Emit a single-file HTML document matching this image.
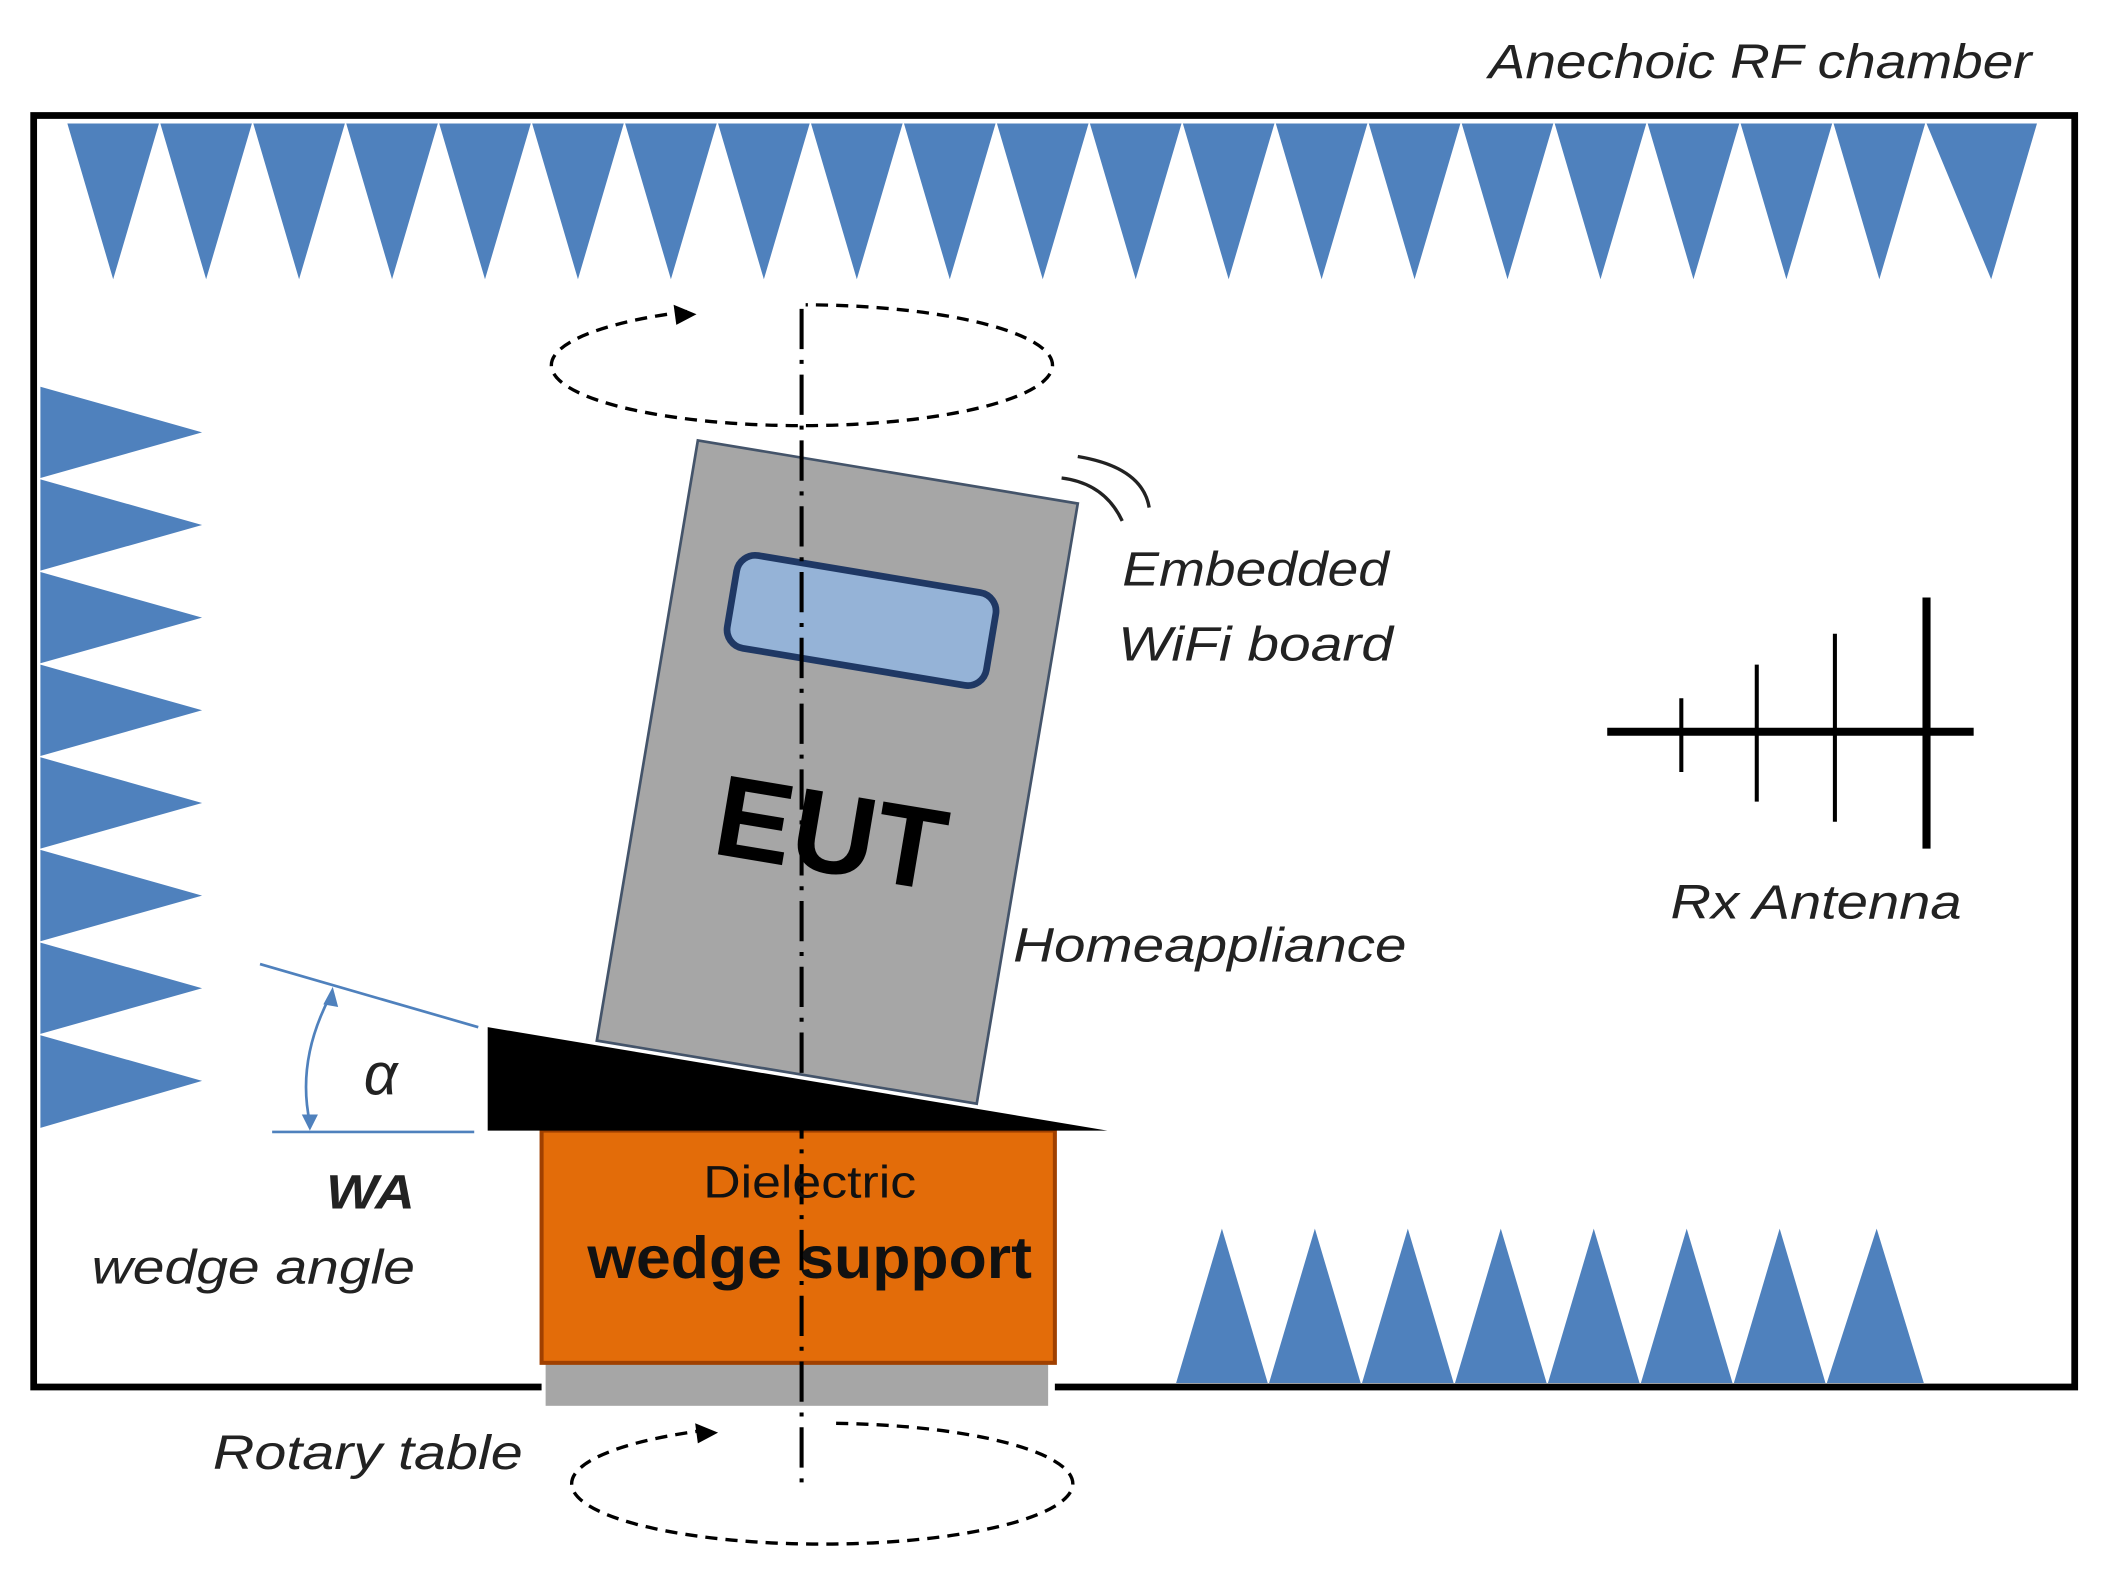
<!DOCTYPE html>
<html><head><meta charset="utf-8"><style>html,body{margin:0;padding:0;background:#fff}svg{display:block}</style></head>
<body>
<svg width="2103" height="1575" viewBox="0 0 1561 1173" preserveAspectRatio="none" xmlns="http://www.w3.org/2000/svg" font-family="Liberation Sans, sans-serif">
<rect width="1561" height="1173" fill="#fff"/>
<path d="M402,1033 L25,1033 L25,86 L1540,86 L1540,1033 L783,1033" fill="none" stroke="#000" stroke-width="5"/>
<g fill="#4f81bd">
<path d="M50,92 L118,92 L84,208Z M119,92 L187,92 L153,208Z M188,92 L256,92 L222,208Z M257,92 L325,92 L291,208Z M326,92 L394,92 L360,208Z M395,92 L463,92 L429,208Z M464,92 L532,92 L498,208Z M533,92 L601,92 L567,208Z M602,92 L670,92 L636,208Z M671,92 L739,92 L705,208Z M740,92 L808,92 L774,208Z M809,92 L877,92 L843,208Z M878,92 L946,92 L912,208Z M947,92 L1015,92 L981,208Z M1016,92 L1084,92 L1050,208Z M1085,92 L1153,92 L1119,208Z M1154,92 L1222,92 L1188,208Z M1223,92 L1291,92 L1257,208Z M1292,92 L1360,92 L1326,208Z M1361,92 L1429,92 L1395,208Z M1430,92 L1512,92 L1478,208Z"/>
<path d="M30,288 L150,322 L30,356Z M30,357 L150,391 L30,425Z M30,426 L150,460 L30,494Z M30,495 L150,529 L30,563Z M30,564 L150,598 L30,632Z M30,633 L150,667 L30,701Z M30,702 L150,736 L30,770Z M30,771 L150,805 L30,840Z"/>
<path d="M873,1030 L907,915 L941,1030Z M942,1030 L976,915 L1010,1030Z M1011,1030 L1045,915 L1079,1030Z M1080,1030 L1114,915 L1148,1030Z M1149,1030 L1183,915 L1217,1030Z M1218,1030 L1252,915 L1286,1030Z M1287,1030 L1321,915 L1355,1030Z M1356,1030 L1393,915 L1428,1030Z"/>
</g>
<rect x="405" y="1015" width="373" height="32" fill="#a6a6a6"/>
<rect x="402" y="842" width="381" height="173" fill="#e36c09" stroke="#a04000" stroke-width="3"/>
<polygon points="518,328 800,375 725,822 443,775" fill="#a6a6a6" stroke="#44546a" stroke-width="2"/>
<g transform="rotate(9.5 639 462)">
<rect x="542" y="427" width="195" height="70" rx="14" fill="#95b3d7" stroke="#1f3864" stroke-width="5"/>
</g>
<text x="617" y="650" font-size="86" font-weight="bold" text-anchor="middle" transform="rotate(9.5 617 620)">EUT</text>
<polygon points="362,765 822,842 362,842" fill="#000"/>
<line x1="595" y1="230" x2="595" y2="1105" stroke="#000" stroke-width="3" stroke-dasharray="30,8,3,8"/>
<path d="M510,232 A186,45 0 1 0 598,227" fill="none" stroke="#000" stroke-width="2.5" stroke-dasharray="9,6"/>
<path d="M500,227 L517,234 L502,242Z" fill="#000"/>
<path d="M525,1065 A186,45 0 1 0 615,1060" fill="none" stroke="#000" stroke-width="2.5" stroke-dasharray="9,6"/>
<path d="M516,1060 L533,1067 L518,1075Z" fill="#000"/>
<path d="M788,356 Q820,360 833,388" fill="none" stroke="#222" stroke-width="2.5"/>
<path d="M800,340 Q848,348 853,378" fill="none" stroke="#222" stroke-width="2.5"/>
<line x1="193" y1="718" x2="355" y2="765" stroke="#4f81bd" stroke-width="2"/>
<line x1="202" y1="843" x2="352" y2="843" stroke="#4f81bd" stroke-width="2"/>
<path d="M245,742 Q220,790 230,836" fill="none" stroke="#4f81bd" stroke-width="2"/>
<path d="M240,748 L247,735 L251,750Z M224,830 L230,842 L236,830Z" fill="#4f81bd"/>
<line x1="1193" y1="545" x2="1465" y2="545" stroke="#000" stroke-width="6"/>
<line x1="1248" y1="520" x2="1248" y2="575" stroke="#000" stroke-width="3"/>
<line x1="1304" y1="495" x2="1304" y2="597" stroke="#000" stroke-width="3"/>
<line x1="1362" y1="472" x2="1362" y2="612" stroke="#000" stroke-width="3"/>
<line x1="1430" y1="445" x2="1430" y2="632" stroke="#000" stroke-width="6"/>
<g font-style="italic" font-size="36" fill="#222">
<text x="1105" y="58" textLength="403" lengthAdjust="spacingAndGlyphs">Anechoic RF chamber</text>
<text x="833" y="436" textLength="198" lengthAdjust="spacingAndGlyphs">Embedded</text>
<text x="830" y="492" textLength="204" lengthAdjust="spacingAndGlyphs">WiFi board</text>
<text x="752" y="716" textLength="292" lengthAdjust="spacingAndGlyphs">Homeappliance</text>
<text x="1240" y="684" textLength="216" lengthAdjust="spacingAndGlyphs">Rx Antenna</text>
<text x="68" y="956" textLength="240" lengthAdjust="spacingAndGlyphs">wedge angle</text>
<text x="158" y="1094" textLength="230" lengthAdjust="spacingAndGlyphs">Rotary table</text>
<text x="242" y="900" font-weight="bold" textLength="66" lengthAdjust="spacingAndGlyphs">WA</text>
<text x="270" y="815" font-size="44">α</text>
</g>
<text x="522" y="892" font-size="34" fill="#111" textLength="158" lengthAdjust="spacingAndGlyphs">Dielectric</text>
<text x="436" y="952" font-size="44" font-weight="bold" fill="#111" textLength="330" lengthAdjust="spacingAndGlyphs">wedge support</text>
</svg>
</body></html>
